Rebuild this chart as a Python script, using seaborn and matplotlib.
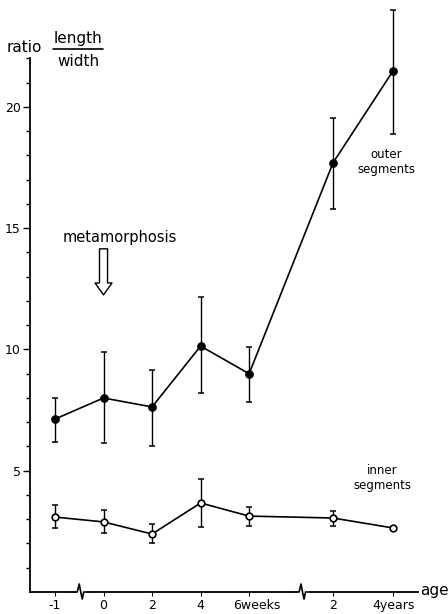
import numpy as np
import pandas as pd
import matplotlib
matplotlib.use("Agg")
import matplotlib.pyplot as plt
from matplotlib.lines import Line2D
import matplotlib.transforms as mtransforms
import seaborn as sns

# ---- data ----
age_labels = ["-1", "0", "2", "4", "6weeks", "2", "4years"]
age_pos = [0, 1, 2, 3, 4, 5.73, 6.97]          # axis position of each age (broken scale)

outer_mean = [7.13, 8.0, 7.63, 10.14, 9.0, 17.7, 21.5]
outer_low = [6.19, 6.14, 6.02, 8.2, 7.84, 15.8, 18.9]
outer_high = [8.0, 9.9, 9.15, 12.16, 10.1, 19.55, 24.0]

inner_mean = [3.09, 2.89, 2.39, 3.67, 3.13, 3.05, 2.64]
inner_low = [2.64, 2.43, 2.02, 2.68, 2.72, 2.72, None]
inner_high = [3.59, 3.38, 2.8, 4.66, 3.5, 3.34, None]

# ---- figure ----
sns.set_style("ticks")
plt.rcParams["font.family"] = ["DejaVu Sans"]
plt.rcParams.update({
    "text.color": "black",
    "axes.edgecolor": "black",
    "xtick.color": "black",
    "ytick.color": "black",
    "axes.labelcolor": "black",
})

W, H = 448, 614
fig = plt.figure(figsize=(W / 100, H / 100), dpi=100)

def fx(px):
    return px / W

def fy(py):
    return 1 - py / H

ax = fig.add_axes([fx(30), fy(592), fx(418) - fx(30), fy(0) - fy(592)])

df_out = pd.DataFrame({"pos": age_pos, "ratio": outer_mean})
df_in = pd.DataFrame({"pos": age_pos, "ratio": inner_mean})

lw = 1.2
sns.lineplot(data=df_out, x="pos", y="ratio", ax=ax, color="black", lw=lw,
             marker="o", markersize=5.5, markerfacecolor="black",
             markeredgecolor="black", zorder=3, clip_on=False)
sns.lineplot(data=df_in, x="pos", y="ratio", ax=ax, color="black", lw=lw,
             marker="o", markersize=4.8, markerfacecolor="white",
             markeredgecolor="black", markeredgewidth=1.2, zorder=3, clip_on=False)

om = np.array(outer_mean)
ax.errorbar(age_pos, om, yerr=[om - np.array(outer_low), np.array(outer_high) - om],
            fmt="none", ecolor="black", elinewidth=1.0, capsize=2.4, capthick=1.1,
            zorder=2, clip_on=False)

idx = [i for i in range(len(inner_mean)) if inner_low[i] is not None]
im = np.array([inner_mean[i] for i in idx])
ax.errorbar([age_pos[i] for i in idx], im,
            yerr=[im - np.array([inner_low[i] for i in idx]),
                  np.array([inner_high[i] for i in idx]) - im],
            fmt="none", ecolor="black", elinewidth=1.0, capsize=2.4, capthick=1.1,
            zorder=2, clip_on=False)

# axes limits / ticks
ax.set_xlim(-0.515, 7.48)
ax.set_ylim(0, 24.41)
ax.set_xticks(age_pos)
ax.set_xticklabels(age_labels)
ax.set_yticks([5, 10, 15, 20])
ax.set_yticks(np.arange(1, 23, 1), minor=True)
ax.tick_params(axis="y", which="major", length=5, width=1.0, labelsize=9, pad=1.5)
ax.tick_params(axis="y", which="minor", length=3, width=1.0)
ax.tick_params(axis="x", which="major", length=3, width=0.8, labelsize=9, pad=2)
ax.set_xlabel("")
ax.set_ylabel("")
for s in ["top", "right"]:
    ax.spines[s].set_visible(False)
ax.spines["left"].set_bounds(0, 22)
ax.spines["left"].set_linewidth(1.3)
ax.spines["bottom"].set_linewidth(1.3)

# shift "6weeks" label slightly right like the original
lab = ax.get_xticklabels()[4]
lab.set_transform(lab.get_transform() + mtransforms.ScaledTranslation(8 / 100, 0, fig.dpi_scale_trans))

# axis-break squiggles
px_x = 1 / 48.5
px_y = 1 / 24.25
for xb in [0.52, 5.09]:
    ax.plot([xb - 5 * px_x, xb + 6 * px_x], [0, 0], color="white", lw=2.5,
            clip_on=False, zorder=4, solid_capstyle="butt")
    zx = [-6, -3, -1, 0.5, 2, 3.5, 6]
    zy = [0, 0, 8, 0, -7, 0, 0]
    ax.plot([xb + v * px_x for v in zx], [v * px_y for v in zy], color="black",
            lw=1.2, clip_on=False, zorder=5)

# metamorphosis arrow
ax.annotate("", xy=(1, 12.25), xytext=(1, 14.15),
            arrowprops=dict(arrowstyle="simple,head_length=0.86,head_width=1.22,tail_width=0.58",
                            fc="white", ec="black", lw=1.0, mutation_scale=10,
                            shrinkA=0, shrinkB=0))
fig.text(fx(120), fy(238), "metamorphosis", fontsize=10.5, ha="center", va="center")

# series labels
fig.text(fx(386), fy(162), "outer\nsegments", fontsize=8.5, ha="center", va="center",
         linespacing=1.2)
fig.text(fx(382), fy(478), "inner\nsegments", fontsize=8.5, ha="center", va="center",
         linespacing=1.2)

# axis titles
fig.text(fx(7), fy(47), "ratio", fontsize=11, ha="left", va="center")
fig.text(fx(78), fy(38), "length", fontsize=11, ha="center", va="center")
fig.text(fx(78), fy(61), "width", fontsize=11, ha="center", va="center")
fig.add_artist(Line2D([fx(53), fx(103)], [fy(49), fy(49)], color="black", lw=1.2))
fig.text(fx(420), fy(590), "age", fontsize=11, ha="left", va="center")

fig.savefig("out.png", dpi=100)
